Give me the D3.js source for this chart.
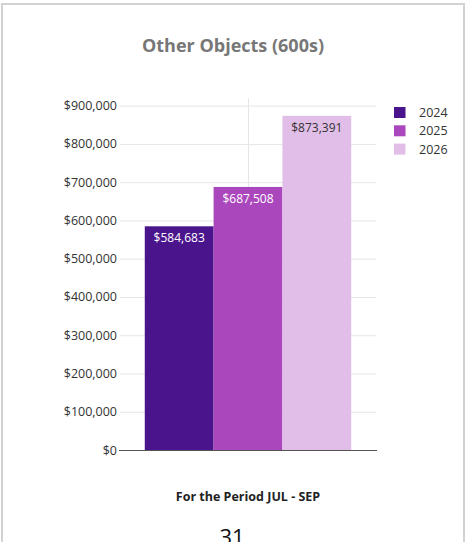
<!DOCTYPE html>
<html>
<head>
<meta charset="utf-8">
<script src="https://cdn.jsdelivr.net/npm/d3@7"></script>
<style>
  html, body { margin: 0; padding: 0; background: #fff; overflow: hidden; }
  svg { display: block; }
  text { font-family: "Open Sans", sans-serif; }
</style>
</head>
<body>
<svg id="chart" width="467" height="542"></svg>
<script>
// Spending on other objects (600s), July - September, by fiscal year
const period = ["JUL - SEP"];
const years = ["2024", "2025", "2026"];
const amounts = [584683, 687508, 873391];
const colors = ["#4a148c", "#ab47bc", "#e1bee7"];
const labelColors = ["#ffffff", "#ffffff", "#333333"];
const yTicks = [0, 100000, 200000, 300000, 400000, 500000, 600000, 700000, 800000, 900000];

const svg = d3.select("#chart");

// Card frame
svg.append("rect")
  .attr("x", 2).attr("y", 4)
  .attr("width", 462).attr("height", 600)
  .attr("fill", "#fff")
  .attr("stroke", "#d2d2d2")
  .attr("stroke-width", 2);

const plot = { left: 120, right: 376, top: 98, bottom: 450 };

const y = d3.scaleLinear().domain([0, 920000]).range([plot.bottom, plot.top]);
const x0 = d3.scaleBand().domain(period).range([plot.left, plot.right]).paddingInner(0).paddingOuter(0.12);
const x1 = d3.scaleBand().domain(years).range([0, x0.bandwidth()]).padding(0);

const fmt = d3.format("$,");

// Title
svg.append("text")
  .attr("x", 233).attr("y", 52)
  .attr("text-anchor", "middle")
  .attr("font-size", 18)
  .attr("font-weight", 700)
  .attr("fill", "#777777")
  .text("Other Objects (600s)");

// Horizontal gridlines
svg.append("g")
  .selectAll("line")
  .data(yTicks.filter(d => d > 0))
  .join("line")
  .attr("x1", plot.left).attr("x2", plot.right)
  .attr("y1", d => y(d) + 0.5).attr("y2", d => y(d) + 0.5)
  .attr("stroke", "#e6e6e6")
  .attr("stroke-width", 1);

// Vertical gridline through the category centre
svg.append("g")
  .selectAll("line")
  .data(period)
  .join("line")
  .attr("x1", d => Math.round(x0(d) + x0.bandwidth() / 2) + 0.5)
  .attr("x2", d => Math.round(x0(d) + x0.bandwidth() / 2) + 0.5)
  .attr("y1", plot.top).attr("y2", plot.bottom)
  .attr("stroke", "#e6e6e6")
  .attr("stroke-width", 1);

// Y axis labels
const yAxis = d3.axisLeft(y).tickValues(yTicks).tickFormat(fmt).tickSize(0).tickPadding(3);
const gy = svg.append("g")
  .attr("transform", `translate(${plot.left},0)`)
  .call(yAxis);
gy.select(".domain").remove();
gy.selectAll("text")
  .attr("font-family", "'Open Sans', sans-serif")
  .attr("font-size", 12.5)
  .attr("fill", "#333333");

// Bars
const series = years.map((yr, i) => ({ year: yr, value: amounts[i], color: colors[i], label: labelColors[i] }));
const g = svg.append("g").attr("transform", `translate(${x0(period[0])},0)`);
g.selectAll("rect")
  .data(series)
  .join("rect")
  .attr("x", d => x1(d.year))
  .attr("y", d => y(d.value))
  .attr("width", x1.bandwidth())
  .attr("height", d => y(0) - y(d.value))
  .attr("fill", d => d.color);

// Value labels inside the bar tops
g.selectAll("text.val")
  .data(series)
  .join("text")
  .attr("class", "val")
  .attr("x", d => x1(d.year) + x1.bandwidth() / 2)
  .attr("y", d => y(d.value) + 16)
  .attr("text-anchor", "middle")
  .attr("font-size", 12)
  .attr("fill", d => d.label)
  .text(d => fmt(d.value));

// Baseline
svg.append("line")
  .attr("x1", plot.left - 1).attr("x2", plot.right + 1)
  .attr("y1", y(0) + 0.5).attr("y2", y(0) + 0.5)
  .attr("stroke", "#555555")
  .attr("stroke-width", 1);

// Legend
const legend = svg.append("g").attr("transform", "translate(394,107)");
const li = legend.selectAll("g")
  .data(series)
  .join("g")
  .attr("transform", (d, i) => `translate(0,${i * 18.3})`);
li.append("rect")
  .attr("width", 11.5).attr("height", 11)
  .attr("fill", d => d.color);
li.append("text")
  .attr("x", 25).attr("y", 10)
  .attr("font-size", 12.5)
  .attr("fill", "#333333")
  .text(d => d.year);

// Axis caption
svg.append("text")
  .attr("x", 248).attr("y", 501)
  .attr("text-anchor", "middle")
  .attr("font-size", 12.5)
  .attr("font-weight", 700)
  .attr("fill", "#222222")
  .text("For the Period " + period[0]);

// Page number
svg.append("text")
  .attr("x", 232).attr("y", 545)
  .attr("text-anchor", "middle")
  .attr("font-family", "'Liberation Sans', Arial, sans-serif")
  .attr("font-size", 22)
  .attr("fill", "#111111")
  .text("31");
</script>
</body>
</html>
